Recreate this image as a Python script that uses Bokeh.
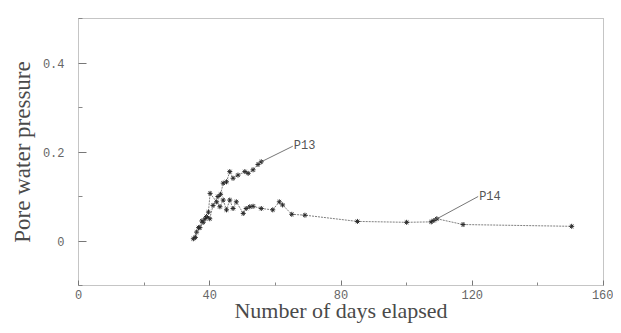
from bokeh.plotting import figure
from bokeh.embed import file_html
from bokeh.resources import INLINE
from bokeh.models import Label, FixedTicker, Range1d

# ---- data ----
p13_days = [35.0, 36.0, 37.0, 38.0, 39.0, 40.0, 41.0, 42.5, 43.3, 44.1, 45.1,
            46.1, 47.1, 48.6, 50.7, 51.7, 53.2, 54.7, 55.7]
p13_vals = [0.005, 0.020, 0.030, 0.042, 0.055, 0.050, 0.080, 0.100, 0.105, 0.130, 0.133,
            0.156, 0.141, 0.148, 0.156, 0.152, 0.160, 0.172, 0.178]

p14_days = [35.6, 36.6, 37.6, 38.6, 39.6, 40.1, 42.1, 43.1, 44.1, 45.1, 46.1,
            47.1, 48.1, 50.2, 51.1, 52.2, 53.2, 55.7, 59.2, 61.2, 62.2, 65.0,
            69.0, 85.0, 100.0, 107.5, 108.3, 109.2, 117.2, 150.3]
p14_vals = [0.008, 0.030, 0.045, 0.050, 0.065, 0.107, 0.088, 0.077, 0.092, 0.070, 0.092,
            0.073, 0.088, 0.062, 0.073, 0.077, 0.078, 0.073, 0.070, 0.088, 0.081, 0.060,
            0.058, 0.044, 0.042, 0.043, 0.046, 0.050, 0.037, 0.033]

series_names = ["P13", "P14"]
# annotation leader lines: from a point on the curve to the label
p13_leader_x = [55.7, 65.3]
p13_leader_y = [0.178, 0.213]
p14_leader_x = [108.5, 121.8]
p14_leader_y = [0.047, 0.100]

x_ticks = [0, 40, 80, 120, 160]
x_minor = [20, 60, 100, 140]
y_ticks = [0, 0.2, 0.4]
y_minor = [-0.1, 0.1, 0.3, 0.5]
y_tick_labels = {0: "0", 0.2: "0.2", 0.4: "0.4"}

x_title = "Number of days elapsed"
y_title = "Pore water pressure"

X_MIN, X_MAX = 0, 160
Y_MIN, Y_MAX = -0.1, 0.5

# ---- figure ----
p = figure(width=613, height=325, output_backend="svg", toolbar_location=None,
           x_range=Range1d(X_MIN, X_MAX), y_range=Range1d(Y_MIN, Y_MAX),
           min_border_left=78, min_border_right=10, min_border_top=18,
           min_border_bottom=40)
p.background_fill_color = "white"
p.border_fill_color = "white"
p.grid.visible = False
p.outline_line_color = "#8a8a8a"
p.outline_line_dash = "1 1"
p.outline_line_width = 1

ink = "#4a4a4a"
for ax in (p.xaxis[0], p.yaxis[0]):
    ax.axis_line_color = None
    ax.major_tick_line_color = "#777777"
    ax.minor_tick_line_color = "#888888"
    ax.major_tick_out = 0
    ax.minor_tick_out = 0
    ax.major_label_text_font = "Liberation Mono"
    ax.major_label_text_font_size = "12px"
    ax.major_label_text_color = "#666666"
    ax.axis_label_text_font = "Liberation Serif"
    ax.axis_label_text_font_style = "normal"
    ax.axis_label_text_color = ink

p.xaxis.ticker = FixedTicker(ticks=x_ticks, minor_ticks=x_minor)
p.yaxis.ticker = FixedTicker(ticks=y_ticks, minor_ticks=y_minor)
p.yaxis.major_label_overrides = y_tick_labels
p.xaxis.major_tick_in = 5
p.xaxis.minor_tick_in = 3
p.yaxis.major_tick_in = 8
p.yaxis.minor_tick_in = 4
p.xaxis.major_label_standoff = 4
p.yaxis.major_label_standoff = 14
p.yaxis.axis_label = y_title
p.yaxis.axis_label_text_font_size = "23px"
p.yaxis.axis_label_standoff = 5
p.xaxis.axis_label = x_title
p.xaxis.axis_label_text_font_size = "22px"
p.xaxis.axis_label_standoff = -4

line_col = "#707070"
for xs, ys in ((p13_days, p13_vals), (p14_days, p14_vals)):
    p.line(xs, ys, line_color=line_col, line_width=0.9, line_dash="2 1")
    p.scatter(xs, ys, marker="asterisk", size=5, line_color="#2a2a2a", line_width=1.0)

p.line(p13_leader_x, p13_leader_y, line_color="#666666", line_width=0.9)
p.line(p14_leader_x, p14_leader_y, line_color="#666666", line_width=0.9)

for name, lx, ly in ((series_names[0], p13_leader_x[1], p13_leader_y[1]),
                     (series_names[1], p14_leader_x[1], p14_leader_y[1])):
    p.add_layout(Label(x=lx, y=ly, text=name, text_font="Liberation Mono",
                       text_font_size="12px", text_color="#555555",
                       text_baseline="middle", x_offset=1))

open("out.html", "w").write(file_html(p, INLINE))
